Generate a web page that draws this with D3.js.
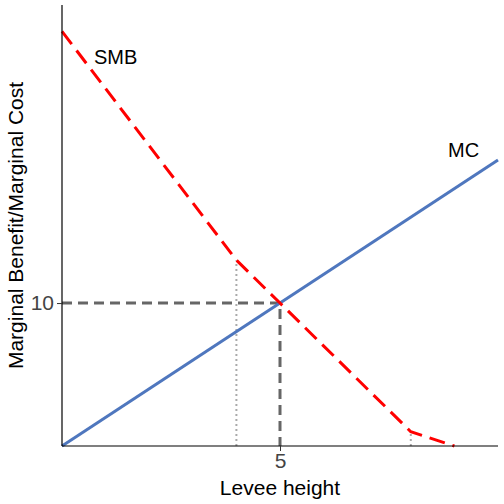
<!DOCTYPE html><html><head><script src="https://d3js.org/d3.v7.min.js"></script>
<style>body{margin:0;background:#fff}</style></head><body><svg id="c" width="504" height="504"></svg>
<script>
const smbX=[0,4,5,8,9], smbY=[29,13,10,1,0];
const mcX=[0,10], mcY=[0,20];
const xTicks=[5], yTicks=[10];
const svg=d3.select("#c"), L=62,R=498,T=5,B=446;
const x=d3.scaleLinear().domain([0,10]).range([L,R]);
const y=d3.scaleLinear().domain([0,30.85]).range([B,T]);
const line=d3.line().x(d=>x(d[0])).y(d=>y(d[1]));
const seg=(p,c,w,da)=>svg.append("path").attr("d",line(p)).attr("fill","none").attr("stroke",c).attr("stroke-width",w).attr("stroke-dasharray",da);
seg([[4,0],[4,13]],"#aaa",2,"2,3");
seg([[8,0],[8,1]],"#aaa",2,"2,3");
seg([[0,10],[5,10],[5,0]],"#666",3,"10,6");
seg(mcX.map((v,i)=>[v,mcY[i]]),"#4f77be",3,null);
seg(smbX.map((v,i)=>[v,smbY[i]]),"#f00",3,"16,8");
const gx=svg.append("g").attr("transform",`translate(0,${B})`).call(d3.axisBottom(x).tickValues(xTicks).tickSize(5).tickPadding(2));
const gy=svg.append("g").attr("transform",`translate(${L},0)`).call(d3.axisLeft(y).tickValues(yTicks).tickSize(5).tickPadding(3));
[gx,gy].forEach(g=>{g.select(".domain").attr("stroke","#000").attr("stroke-width",1.2);g.selectAll("text").attr("font-family","Liberation Sans, Arial").attr("font-size",21).attr("fill","#444");g.selectAll("line").attr("stroke","#333")});
gx.select(".domain").attr("d",`M${L},0H${R}`);gy.select(".domain").attr("d",`M0,${T}V${B}`);
svg.append("text").attr("x",x(5)).attr("y",495).attr("text-anchor","middle").attr("font-family","Liberation Sans, Arial").attr("font-size",21).text("Levee height");
svg.append("text").attr("transform",`translate(23,${(T+B)/2}) rotate(-90)`).attr("text-anchor","middle").attr("font-family","Liberation Sans, Arial").attr("font-size",21).text("Marginal Benefit/Marginal Cost");
svg.append("text").attr("x",94).attr("y",64).attr("font-family","Liberation Sans, Arial").attr("font-size",20).text("SMB");
svg.append("text").attr("x",448).attr("y",157).attr("font-family","Liberation Sans, Arial").attr("font-size",20).text("MC");
</script></body></html>
